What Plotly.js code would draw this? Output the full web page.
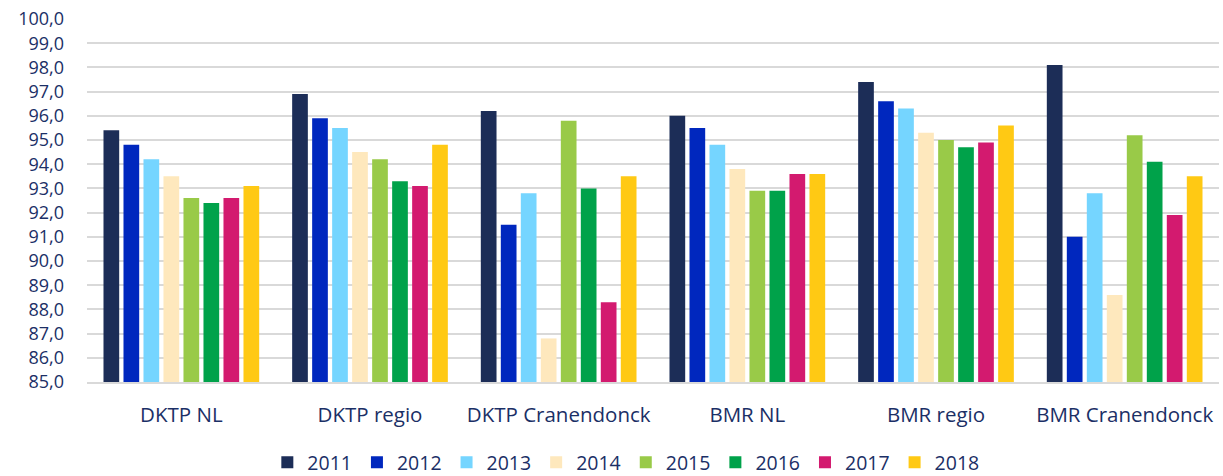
<!DOCTYPE html>
<html>
<head>
<meta charset="utf-8">
<script src="https://cdn.plot.ly/plotly-3.0.1.min.js"></script>
<style>
  html, body { margin: 0; padding: 0; background: #ffffff; }
  #chart { width: 1223px; height: 476px; }
</style>
</head>
<body>
<div id="chart"></div>
<script>
const categories = ["DKTP NL", "DKTP regio", "DKTP Cranendonck", "BMR NL", "BMR regio", "BMR Cranendonck"];
const years = ["2011", "2012", "2013", "2014", "2015", "2016", "2017", "2018"];

const v2011 = [95.4, 96.9, 96.2, 96.0, 97.4, 98.1];
const v2012 = [94.8, 95.9, 91.5, 95.5, 96.6, 91.0];
const v2013 = [94.2, 95.5, 92.8, 94.8, 96.3, 92.8];
const v2014 = [93.5, 94.5, 86.8, 93.8, 95.3, 88.6];
const v2015 = [92.6, 94.2, 95.8, 92.9, 95.0, 95.2];
const v2016 = [92.4, 93.3, 93.0, 92.9, 94.7, 94.1];
const v2017 = [92.6, 93.1, 88.3, 93.6, 94.9, 91.9];
const v2018 = [93.1, 94.8, 93.5, 93.6, 95.6, 93.5];

const seriesValues = [v2011, v2012, v2013, v2014, v2015, v2016, v2017, v2018];
const colors = ["#1c2d57", "#0027be", "#75d5ff", "#fee8bd", "#99ca48", "#00a24a", "#d31a6f", "#ffc914"];

const textColor = "#1b2f66";
const fontFamily = "'Open Sans', 'Noto Sans', sans-serif";
const axisMin = 85;

const traces = years.map((y, i) => ({
  type: "bar",
  name: y,
  x: categories,
  y: seriesValues[i].map(v => v - axisMin),
  base: axisMin,
  marker: { color: colors[i], line: { width: 0 } },
  hoverinfo: "x+y+name"
}));

const layout = {
  width: 1223,
  height: 476,
  margin: { l: 87, r: 4, t: 19, b: 94, autoexpand: false },
  paper_bgcolor: "#ffffff",
  plot_bgcolor: "#ffffff",
  separators: ",.",
  barmode: "group",
  bargap: 0.152,
  bargroupgap: 0.215,
  font: { family: fontFamily, color: textColor, size: 20 },
  xaxis: {
    type: "category",
    showgrid: false,
    showline: true,
    linecolor: "#d9d9d9",
    linewidth: 2,
    ticks: "",
    ticklabelstandoff: 13,
    tickfont: { family: fontFamily, size: 20.5, color: textColor },
    fixedrange: true
  },
  yaxis: {
    range: [85, 100],
    dtick: 1,
    tick0: 85,
    tickformat: ".1f",
    showgrid: true,
    gridcolor: "#d9d9d9",
    gridwidth: 2,
    zeroline: false,
    showline: false,
    ticks: "",
    ticklabelstandoff: 22,
    tickfont: { family: fontFamily, size: 18, color: textColor },
    fixedrange: true
  },
  legend: {
    orientation: "h",
    x: 0.476,
    xanchor: "center",
    y: -0.222,
    yanchor: "middle",
    font: { family: fontFamily, size: 19.5, color: textColor },
    traceorder: "normal",
    itemclick: false,
    itemdoubleclick: false
  },
  showlegend: true
};

Plotly.newPlot("chart", traces, layout, { displayModeBar: false, staticPlot: true });
</script>
</body>
</html>
